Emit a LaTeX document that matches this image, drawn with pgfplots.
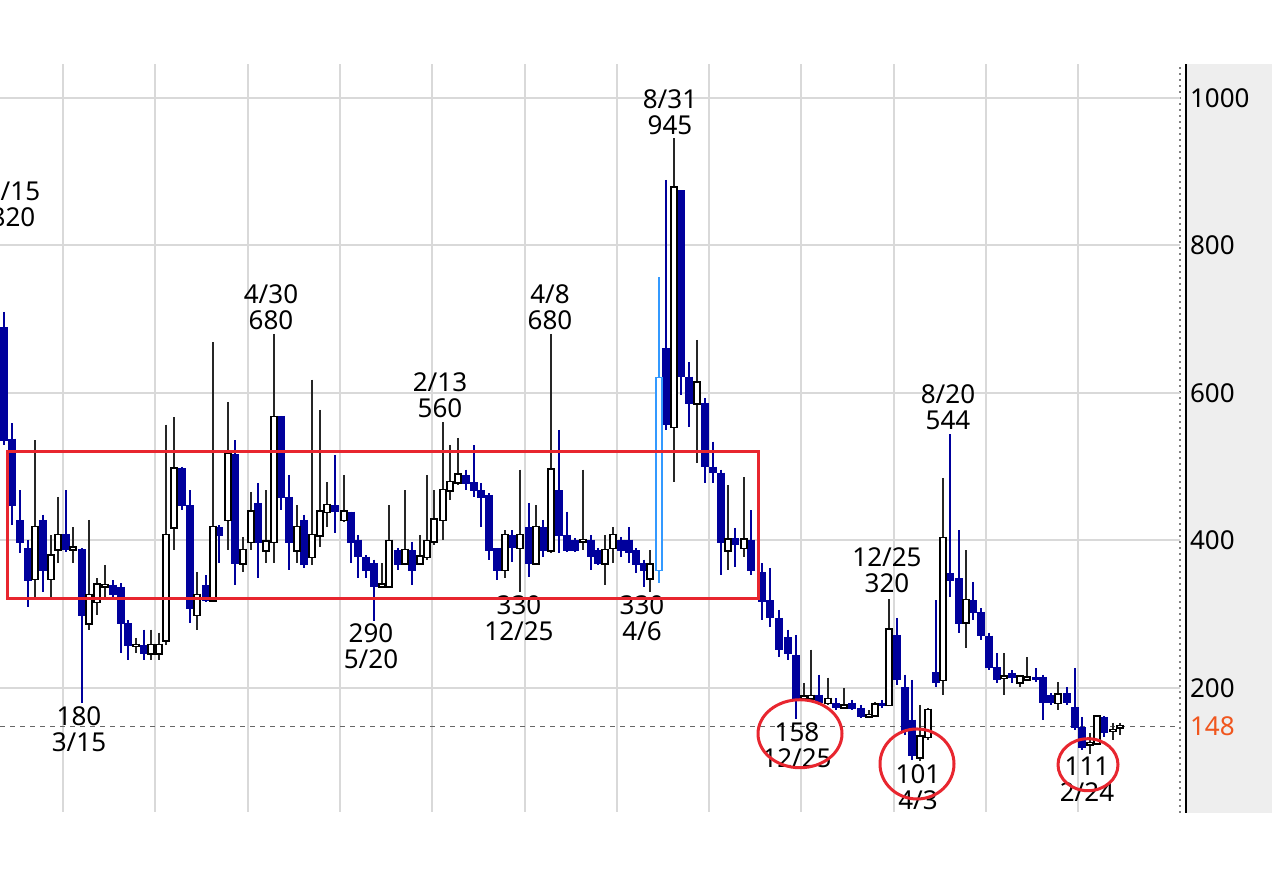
\documentclass[border=0pt]{standalone}
\usepackage{fontspec}
\setmainfont{Noto Sans}
\usepackage{pgfplots}
\usepackage{pgfplotstable}
\pgfplotsset{compat=1.18}
\definecolor{cblue}{HTML}{00009C}
\definecolor{lblue}{HTML}{3399FF}
\definecolor{gridc}{HTML}{D9D9D9}
\definecolor{redbox}{HTML}{E8262F}
\definecolor{orng}{HTML}{F0561E}
\definecolor{panel}{HTML}{EEEEEE}

% down (blue) candles: x open high low close
\pgfplotstableread{
x o h l c
4 689 710 529 536
12 538 559 421 448
20 428 468 383 398
28 390 401 310 346
43 428 435 330 360
66 409 468 384 388
82 388 390 180 299
113 340 346 319 327
121 337 342 247 288
128 288 292 238 258
144 258 279 238 247
182 498 500 441 448
190 448 468 288 308
206 340 353 317 319
219 418 421 369 407
235 517 536 340 369
258 451 478 349 398
281 569 569 441 459
289 459 489 360 398
304 428 435 363 367
335 448 516 410 439
351 439 439 369 398
358 401 407 349 378
366 378 380 349 360
374 369 374 291 338
398 387 390 360 367
412 387 398 340 360
466 489 496 468 478
474 479 529 459 468
481 468 478 418 459
489 462 464 374 387
497 390 390 346 360
512 407 414 371 391
529 418 451 350 369
543 418 428 378 387
559 468 550 383 407
567 407 439 384 387
575 401 403 384 387
591 401 407 360 378
598 387 390 367 369
621 401 405 378 387
629 401 418 369 384
636 387 390 356 367
644 369 374 337 360
666 661 889 550 557
681 875 875 597 622
689 622 642 554 586
705 586 593 478 500
713 500 534 478 492
721 492 496 353 397
735 403 417 364 394
751 401 441 353 360
762 357 369 292 317
770 319 363 283 296
779 295 306 242 252
788 269 279 238 247
796 245 272 158 186
819 191 218 177 181
836 180 186 170 174
852 180 184 170 173
861 173 177 159 161
882 180 184 173 176
897 272 295 204 211
905 201 218 136 143
912 157 211 102 109
936 222 319 201 207
950 356 544 323 346
959 349 414 275 288
973 319 344 292 303
981 303 308 265 271
989 271 275 224 228
997 228 247 207 211
1012 220 224 207 214
1036 215 227 208 211
1043 215 218 157 180
1051 191 193 177 180
1067 193 201 177 180
1075 174 227 143 146
1082 147 161 116 119
1104 161 162 134 140
}\down

% up (white) candles: x open high low close
\pgfplotstableread{
x o h l c
35 348 536 323 418
51 348 407 319 379
58 388 459 369 407
73 388 418 369 390
89 288 428 279 326
97 317 349 299 340
105 338 367 319 339
136 257 268 247 258
151 247 279 238 258
159 247 275 238 258
166 265 557 258 407
174 418 567 387 497
197 299 357 279 326
213 319 669 317 418
228 428 588 387 517
243 369 405 357 387
251 398 466 387 439
266 387 468 369 398
274 398 680 369 567
297 387 448 369 418
312 378 618 367 407
320 407 577 391 439
327 439 479 418 448
344 428 489 425 439
382 338 369 337 340
389 338 448 337 399
405 369 468 367 387
420 369 407 367 378
427 378 489 374 399
434 399 468 394 428
443 428 560 401 468
450 468 529 455 479
458 479 539 475 489
505 360 414 349 407
520 390 496 330 407
536 369 448 367 418
551 387 680 383 496
583 399 496 387 400
605 369 407 340 387
613 390 418 369 407
650 349 387 330 367
674 554 945 479 878
697 586 672 505 614
728 387 475 360 401
744 390 486 378 401
804 186 207 184 188
811 186 252 184 189
828 180 214 177 185
844 174 200 172 176
869 162 170 161 163
875 163 181 161 177
889 177 320 176 279
920 106 177 101 134
928 134 173 129 170
943 211 485 191 403
966 289 387 254 319
1004 214 247 191 215
1020 208 218 201 215
1027 212 242 209 214
1058 180 208 170 191
1090 124 139 111 125
1097 125 162 123 161
1113 142 153 129 143
1120 147 153 136 148
}\up

% light blue (hollow) candle
\pgfplotstableread{
x o h l c
659 360 757 342 620
}\lb

\begin{document}
\begin{tikzpicture}[font=\fontsize{13}{13}\selectfont]
\path[use as bounding box] (0,0) rectangle (640pt,441pt);
\fill[panel] (593pt,34.5pt) rectangle (636pt,409pt);
\draw[black, line width=0.8pt] (593pt,34.5pt) -- (593pt,409pt);
\draw[gray, dotted, line width=1pt] (590pt,34.5pt) -- (590pt,409pt);
\begin{axis}[
  at={(0pt,35pt)}, anchor=south west,
  scale only axis, width=590pt, height=374pt,
  xmin=0, xmax=1180, ymin=31.9, ymax=1046,
  axis line style={draw=none},
  tick style={draw=none},
  xtick={63,155.3,247.6,339.9,432.2,524.5,616.8,709.1,801.4,893.7,986,1078.3},
  xticklabels={},
  ytick={200,400,600,800,1000},
  yticklabel pos=right,
  yticklabel style={xshift=1.5pt},
  grid=major,
  grid style={gridc, line width=1pt},
  extra y ticks={148},
  extra y tick style={grid=major, grid style={dash pattern=on 2.5pt off 2.5pt, gray!80!black, line width=0.5pt}, yticklabel style={text=orng}},
  clip mode=individual,
  /pgf/number format/set thousands separator={},
  /pgf/number format/assume math mode=true,
]
% wicks
\addplot[draw=none, mark=none, forget plot, error bars/.cd, y dir=minus, y explicit, error mark=none,
  error bar style={draw=cblue, line width=1pt}]
  table[x=x, y=h, y error minus expr=\thisrow{h}-\thisrow{l}] {\down};
\addplot[draw=none, mark=none, forget plot, error bars/.cd, y dir=minus, y explicit, error mark=none,
  error bar style={draw=black!85, line width=1pt}]
  table[x=x, y=h, y error minus expr=\thisrow{h}-\thisrow{l}] {\up};
\addplot[draw=none, mark=none, forget plot, error bars/.cd, y dir=minus, y explicit, error mark=none,
  error bar style={draw=lblue, line width=1pt}]
  table[x=x, y=h, y error minus expr=\thisrow{h}-\thisrow{l}] {\lb};
% blue bodies
\addplot[draw=none, mark=none, forget plot, error bars/.cd, y dir=minus, y explicit, error mark=none,
  error bar style={draw=cblue, line width=4.2pt}]
  table[x=x, y=o, y error minus expr=\thisrow{o}-\thisrow{c}+0.8] {\down};
% white bodies
\addplot[draw=none, mark=none, forget plot, error bars/.cd, y dir=minus, y explicit, error mark=none,
  error bar style={draw=black, line width=3.7pt}]
  table[x=x, y expr=\thisrow{c}+2, y error minus expr=\thisrow{c}-\thisrow{o}+4] {\up};
\addplot[draw=none, mark=none, forget plot, error bars/.cd, y dir=minus, y explicit, error mark=none,
  error bar style={draw=white, line width=2.1pt}]
  table[x=x, y=c, y error minus expr=\thisrow{c}-\thisrow{o}] {\up};
% light blue body
\addplot[draw=none, mark=none, forget plot, error bars/.cd, y dir=minus, y explicit, error mark=none,
  error bar style={draw=lblue, line width=3.7pt}]
  table[x=x, y expr=\thisrow{c}+2, y error minus expr=\thisrow{c}-\thisrow{o}+4] {\lb};
\addplot[draw=none, mark=none, forget plot, error bars/.cd, y dir=minus, y explicit, error mark=none,
  error bar style={draw=white, line width=2.1pt}]
  table[x=x, y=c, y error minus expr=\thisrow{c}-\thisrow{o}] {\lb};

% annotations
\tikzset{lab/.style={align=center, inner sep=0pt, font=\fontsize{13}{13}\selectfont}}
\node[lab] at (axis cs:13,856) {1/15\\820};
\node[lab] at (axis cs:271,716) {4/30\\680};
\node[lab] at (axis cs:440,597) {2/13\\560};
\node[lab] at (axis cs:550,716) {4/8\\680};
\node[lab] at (axis cs:670,981) {8/31\\945};
\node[lab] at (axis cs:887,360) {12/25\\320};
\node[lab] at (axis cs:948,581) {8/20\\544};
\node[lab] at (axis cs:79,144) {180\\3/15};
\node[lab] at (axis cs:371,256) {290\\5/20};
\node[lab] at (axis cs:519,295) {330\\12/25};
\node[lab] at (axis cs:642,295) {330\\4/6};
\node[lab] at (axis cs:797,123) {158\\12/25};
\node[lab] at (axis cs:918,66) {101\\4/3};
\node[lab] at (axis cs:1087,77) {111\\2/24};

% highlight shapes
\draw[redbox, line width=1.5pt] (axis cs:7,320.7) rectangle (axis cs:758,521.3);
\draw[redbox, line width=1.5pt] (axis cs:800,138) ellipse [x radius=21pt, y radius=17pt];
\draw[redbox, line width=1.5pt] (axis cs:917,97) ellipse [x radius=18.5pt, y radius=17.5pt];
\draw[redbox, line width=1.5pt] (axis cs:1088,96) ellipse [x radius=15pt, y radius=13pt];
\end{axis}
\end{tikzpicture}
\end{document}
